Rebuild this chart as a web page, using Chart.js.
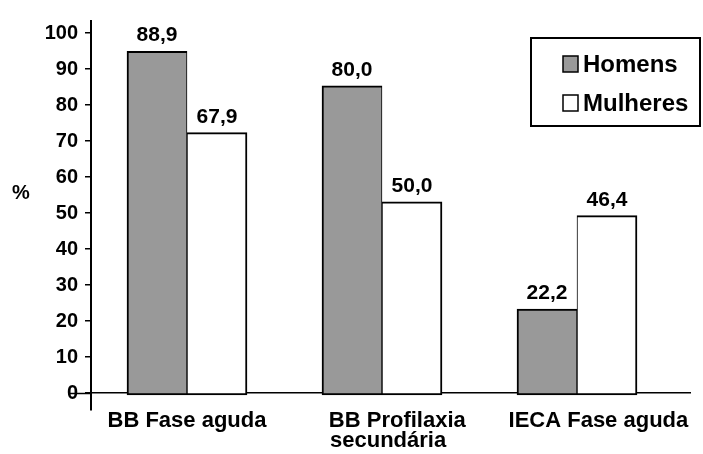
<!DOCTYPE html>
<html>
<head>
<meta charset="utf-8">
<script src="https://cdn.jsdelivr.net/npm/chart.js@4/dist/chart.umd.min.js"></script>
<style>
  html, body { margin: 0; padding: 0; background: #ffffff; }
  canvas { display: block; }
</style>
</head>
<body>
<canvas id="c" width="703" height="454"></canvas>
<script>
// ---- data ----
const categories = ['BB Fase aguda', 'BB Profilaxia secundária', 'IECA Fase aguda'];
const tickLabels = [['BB Fase aguda'], ['     BB Profilaxia', '  secundária'], ['       IECA Fase aguda']];
const seriesNames = ['Homens', 'Mulheres'];
const homens = [88.9, 80.0, 22.2];
const mulheres = [67.9, 50.0, 46.4];
const yTicks = [0, 10, 20, 30, 40, 50, 60, 70, 80, 90, 100];
const yTitle = '%';

const FONT = "'Liberation Sans', Arial, sans-serif";
Chart.defaults.font.family = FONT;
Chart.defaults.font.weight = 'bold';
Chart.defaults.color = '#000000';

const valueLabels = {
  id: 'valueLabels',
  afterDatasetsDraw(chart) {
    const ctx = chart.ctx;
    ctx.save();
    ctx.font = "bold 21px " + FONT;
    ctx.fillStyle = '#000000';
    ctx.textAlign = 'center';
    ctx.textBaseline = 'alphabetic';
    chart.data.datasets.forEach((ds, di) => {
      const meta = chart.getDatasetMeta(di);
      meta.data.forEach((bar, i) => {
        const v = ds.data[i].y;
        ctx.fillText(v.toFixed(1).replace('.', ','), bar.x, bar.y - 10);
      });
    });
    ctx.restore();
  }
};

const extras = {
  id: 'extras',
  afterDraw(chart) {
    const ctx = chart.ctx;
    const ca = chart.chartArea;
    const ys = chart.scales.y;
    ctx.save();
    // extension of the zero line to the left of the y axis
    const y0 = Math.round(ys.getPixelForValue(0)) + 0.5;
    ctx.strokeStyle = '#000000';
    ctx.lineWidth = 1.5;
    ctx.beginPath();
    ctx.moveTo(ca.left - 23, y0);
    ctx.lineTo(ca.left, y0);
    ctx.stroke();
    // y axis title "%" (horizontal)
    ctx.font = "bold 20px " + FONT;
    ctx.fillStyle = '#000000';
    ctx.textAlign = 'center';
    ctx.textBaseline = 'middle';
    ctx.fillText(yTitle, 21, ys.getPixelForValue(55.5));
    // legend box
    const bx = ca.right - 160, by = ca.top + 17, bw = 169, bh = 88;
    ctx.lineWidth = 2;
    ctx.strokeRect(bx, by, bw, bh);
    ctx.font = "bold 24px " + FONT;
    ctx.textAlign = 'left';
    chart.data.datasets.forEach((ds, i) => {
      const cy = by + 26 + i * 39;
      ctx.fillStyle = ds.backgroundColor;
      ctx.fillRect(bx + 32, cy - 8, 15, 16);
      ctx.lineWidth = 1.5;
      ctx.strokeRect(bx + 32, cy - 8, 15, 16);
      ctx.fillStyle = '#000000';
      ctx.fillText(ds.label, bx + 52, cy + 1);
    });
    ctx.restore();
  }
};

new Chart(document.getElementById('c'), {
  type: 'bar',
  data: {
    datasets: [
      {
        label: seriesNames[0],
        data: homens.map((v, i) => ({ x: i, y: v })),
        backgroundColor: '#999999',
        borderColor: '#000000',
        borderWidth: { top: 2, left: 2, bottom: 2, right: 1 },
        borderSkipped: false,
        barThickness: 60,
        yAxisID: 'yb'
      },
      {
        label: seriesNames[1],
        data: mulheres.map((v, i) => ({ x: i, y: v })),
        backgroundColor: '#ffffff',
        borderColor: '#000000',
        borderWidth: { top: 2, left: 1, bottom: 2, right: 2 },
        borderSkipped: false,
        barThickness: 60,
        yAxisID: 'yb'
      }
    ]
  },
  options: {
    responsive: false,
    animation: false,
    devicePixelRatio: 1,
    layout: { padding: { left: 0, right: 12, top: 21, bottom: 0 } },
    plugins: { legend: { display: false }, tooltip: { enabled: false } },
    scales: {
      x: {
        type: 'linear',
        position: 'bottom',
        offset: false,
        bounds: 'data',
        min: -0.4923,
        max: 2.5846,
        afterBuildTicks: (s) => { s.ticks = categories.map((c, i) => ({ value: i })); },
        afterFit: (s) => { s.height = 44; },
        ticks: {
          callback: (v, i) => tickLabels[i],
          font: { size: 22, lineHeight: 0.9 },
          padding: -7,
          autoSkip: false,
          maxRotation: 0,
          minRotation: 0
        },
        grid: { display: false, offset: false },
        border: { display: false }
      },
      y: {
        type: 'linear',
        position: 'left',
        min: -4.722,
        max: 103.333,
        afterBuildTicks: (s) => { s.ticks = yTicks.map(v => ({ value: v })); },
        afterFit: (s) => { s.width = 91; },
        ticks: { font: { size: 20 }, padding: 7 },
        grid: {
          drawOnChartArea: true,
          color: (ctx) => (ctx.tick && ctx.tick.value === 0 ? '#000000' : 'rgba(0,0,0,0)'),
          lineWidth: 1.5,
          drawTicks: true,
          tickLength: 6,
          tickColor: '#000000',
          tickWidth: 1.5
        },
        border: { display: true, color: '#000000', width: 2 }
      },
      yb: {
        type: 'linear',
        display: false,
        min: -3.881,
        max: 96.766
      }
    }
  },
  plugins: [valueLabels, extras]
});
</script>
</body>
</html>
